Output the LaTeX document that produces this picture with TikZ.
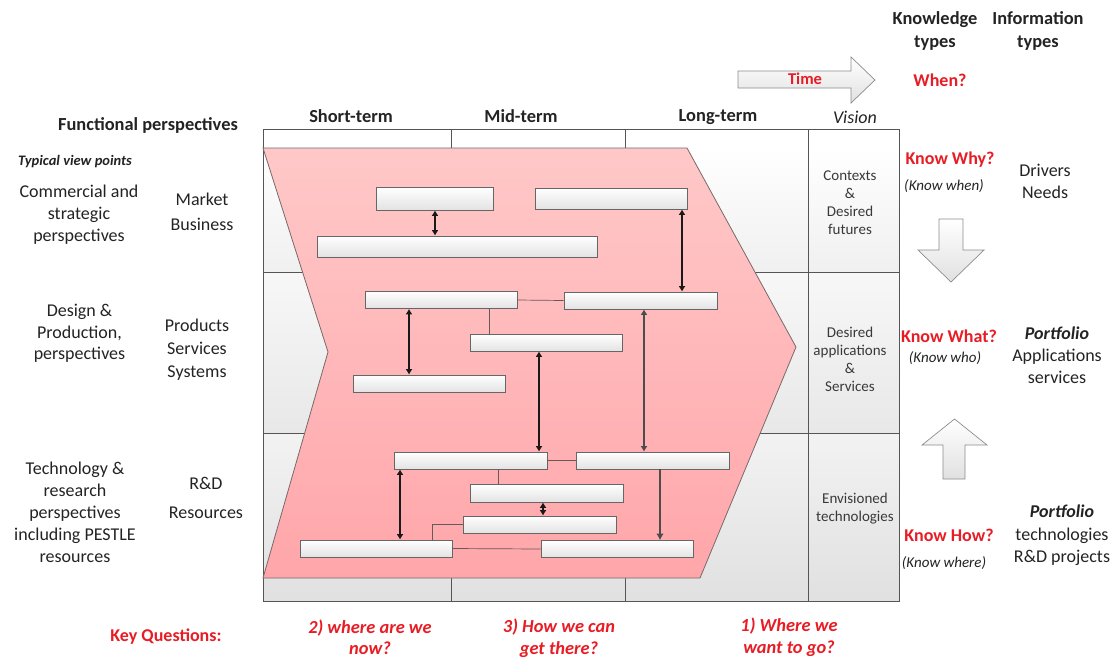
\documentclass[tikz,border=0pt]{standalone}
\usepackage{fontspec}
\setmainfont{Carlito}
\usetikzlibrary{arrows.meta}
\definecolor{qred}{RGB}{232,28,36}
\definecolor{ink}{RGB}{35,35,35}
\definecolor{pinktop}{RGB}{255,200,200}
\definecolor{pinkbot}{RGB}{255,166,170}
\definecolor{edge}{RGB}{120,105,105}
\definecolor{gridline}{RGB}{85,85,85}

\begin{document}
\begin{tikzpicture}[x=1pt,y=-1pt,
  lbl/.style={text=ink, align=center, inner sep=0pt, font=\fontsize{18}{22}\selectfont},
  hdr/.style={text=ink, align=center, inner sep=0pt, font=\bfseries\fontsize{18.4}{23}\selectfont},
  vis/.style={text=ink!90, align=center, inner sep=0pt, font=\fontsize{15}{18}\selectfont},
  know/.style={text=qred, inner sep=0pt, font=\bfseries\fontsize{18}{20}\selectfont},
  when/.style={text=ink, inner sep=0pt, font=\itshape\fontsize{15}{18}\selectfont},
  keyq/.style={text=qred, align=center, inner sep=0pt, font=\bfseries\itshape\fontsize{18.4}{21.5}\selectfont},
  wbox/.style={draw=black!60, line width=0.7pt, top color=white, bottom color=black!11, inner sep=0pt},
  dbl/.style={draw=black!90, line width=1.3pt, {Latex[length=5.5pt,width=7pt]}-{Latex[length=5.5pt,width=7pt]}},
  dblgray/.style={draw=black!70, line width=1.2pt, {Latex[length=5.5pt,width=7pt]}-{Latex[length=5.5pt,width=7pt]}},
  onegray/.style={draw=black!70, line width=1.2pt, -{Latex[length=6.5pt,width=7.5pt]}},
  link/.style={draw=edge!85!black, line width=0.7pt},
  blockarrow/.style={draw=black!45, line width=0.7pt, top color=white, bottom color=black!12},
  gridl/.style={draw=gridline, line width=0.8pt}
]
\useasboundingbox (0,0) rectangle (1113,659);

% ---- background grid ----
\fill[white] (263,129) rectangle (899,148);
\shade[top color=white, bottom color=black!6] (263,148) rectangle (899,272);
\shade[top color=black!3, bottom color=black!9] (263,272) rectangle (899,433);
\shade[top color=black!5, bottom color=black!12] (263,433) rectangle (899,601);
\draw[gridl] (263,129) rectangle (899,601);
\draw[gridl] (808,129) -- (808,601);
\draw[gridl] (263,272) -- (899,272);
\draw[gridl] (263,433) -- (899,433);
\draw[gridl] (451,129) -- (451,148);
\draw[gridl] (625,129) -- (625,148);
\draw[gridl] (451,578) -- (451,601);
\draw[gridl] (625,578) -- (625,601);

% ---- roadmap chevron ----
\path[draw=edge, line width=0.8pt, top color=pinktop, bottom color=pinkbot]
  (263,148) -- (687,148) -- (796,347) -- (700,578) -- (263,578) -- (328,352) -- cycle;

% ---- roadmap items ----
\node[wbox, minimum width=117pt, minimum height=23pt] (b1)  at (434.5,198.5) {};
\node[wbox, minimum width=152pt, minimum height=21pt] (b2)  at (611,198.5) {};
\node[wbox, minimum width=280pt, minimum height=21pt] (b3)  at (457,246.5) {};
\node[wbox, minimum width=152pt, minimum height=17pt] (b4)  at (441,300) {};
\node[wbox, minimum width=153pt, minimum height=17pt] (b5)  at (640.5,300.5) {};
\node[wbox, minimum width=152pt, minimum height=17pt] (b6)  at (546,342.5) {};
\node[wbox, minimum width=152pt, minimum height=17pt] (b7)  at (429,383.5) {};
\node[wbox, minimum width=153pt, minimum height=17pt] (b8)  at (470.5,460.5) {};
\node[wbox, minimum width=153pt, minimum height=17pt] (b9)  at (652.5,460.5) {};
\node[wbox, minimum width=153pt, minimum height=18pt] (b10) at (546.5,493) {};
\node[wbox, minimum width=153pt, minimum height=17pt] (b11) at (539.5,524.5) {};
\node[wbox, minimum width=152pt, minimum height=17pt] (b12) at (376,548.5) {};
\node[wbox, minimum width=152pt, minimum height=17pt] (b13) at (617,549) {};

% ---- links between items ----
\draw[link] (b4.east) -- (b5.west);
\draw[link] (b4.south -| 489,0) -- (b6.north -| 489,0);
\draw[link] (b8.east) -- (b9.west);
\draw[link] (b8.south -| 498,0) -- (b10.north -| 498,0);
\draw[link] (b11.west) -| ([xshift=56pt]b12.north);
\draw[link] (b12.east) -- (b13.west);
\draw[dbl] (b1.south -| 435,0) -- (b3.north -| 435,0);
\draw[dbl] (b2.south -| 682,0) -- (b5.north -| 682,0);
\draw[dbl] (b4.south -| 409,0) -- (b7.north -| 409,0);
\draw[dbl] (b6.south -| 539,0) -- (b8.north -| 539,0);
\draw[dblgray] (b5.south -| 644,0) -- (b9.north -| 644,0);
\draw[dbl] (b10.south -| 543,0) -- (b11.north -| 543,0);
\draw[dbl] (b8.south -| 400,0) -- (b12.north -| 400,0);
\draw[onegray] (b9.south -| 660,0) -- (b13.north -| 660,0);

% ---- block arrows ----
\path[blockarrow] (738,71) -- (851,71) -- (851,57) -- (875,80) -- (851,103) -- (851,88) -- (738,88) -- cycle;
\node[text=qred, inner sep=0pt, font=\bfseries\fontsize{16.5}{18}\selectfont] (time) at (805,79) {Time};
\path[blockarrow] (939,219) -- (963,219) -- (963,250) -- (984,250) -- (951,282) -- (918,250) -- (939,250) -- cycle;
\path[blockarrow] (943,479) -- (965,479) -- (965,445) -- (987,445) -- (954.5,419) -- (922,445) -- (943,445) -- cycle;

% ---- column and row headings ----
\node[hdr] (kt) at (935,30.5) {Knowledge\\types};
\node[hdr] (it) at (1038,31) {Information\\types};
\node[know] (when) at (940,80) {When?};
\node[hdr] (st) at (351,116) {Short-term};
\node[hdr] (mt) at (521,116) {Mid-term};
\node[hdr] (lt) at (718,117) {Long-term};
\node[text=ink, inner sep=0pt, font=\itshape\fontsize{18}{20}\selectfont] (vision) at (855,117) {Vision};
\node[hdr] (fp) at (148,125) {Functional perspectives};
\node[text=ink, inner sep=0pt, font=\bfseries\itshape\fontsize{14.5}{16}\selectfont] (tvp) at (75,162) {Typical view points};

\node[lbl] (l1) at (79,215) {Commercial and\\strategic\\perspectives};
\node[lbl, font=\fontsize{18}{25}\selectfont] (m1) at (202,211.5) {Market\\Business};
\node[lbl, font=\fontsize{18}{21.5}\selectfont] (l2) at (79.5,333.5) {Design \&\\Production,\\perspectives};
\node[lbl, font=\fontsize{18}{23}\selectfont] (m2) at (197,350) {Products\\Services\\Systems};
\node[lbl] (l3) at (75,512) {Technology \&\\research\\perspectives\\including PESTLE\\resources};
\node[lbl, font=\fontsize{18}{29}\selectfont] (m3) at (206,497.5) {R\&D\\Resources};

% ---- vision column ----
\node[vis] (v1) at (850,203) {Contexts\\\&\\Desired\\futures};
\node[vis] (v2) at (850,359) {Desired\\applications\\\&\\Services};
\node[vis] (v3) at (855,509) {Envisioned\\technologies};

% ---- knowledge and information types ----
\node[know] (kwhy) at (950,160) {Know Why?};
\node[when] (kwhen) at (944,186) {(Know when)};
\node[lbl] (drv) at (1045,181) {Drivers\\Needs};
\node[know] (kwhat) at (949,336) {Know What?};
\node[when] (kwho) at (945,358) {(Know who)};
\node[lbl] (pf1) at (1057,355) {\textbf{\textit{Portfolio}}\\Applications\\services};
\node[know] (khow) at (949,535) {Know How?};
\node[when] (kwhere) at (944,563) {(Know where)};
\node[lbl, font=\fontsize{18}{22.5}\selectfont] (pf2) at (1062,535.5) {\textbf{\textit{Portfolio}}\\technologies\\R\&D projects};

% ---- key questions ----
\node[text=qred, inner sep=0pt, font=\bfseries\fontsize{18}{20}\selectfont] (kq) at (166,637) {Key Questions:};
\node[keyq] (q2) at (370,637) {2) where are we\\now?};
\node[keyq] (q3) at (559,638) {3) How we can\\get there?};
\node[keyq] (q1) at (789,637) {1) Where we\\want to go?};
\end{tikzpicture}
\end{document}
